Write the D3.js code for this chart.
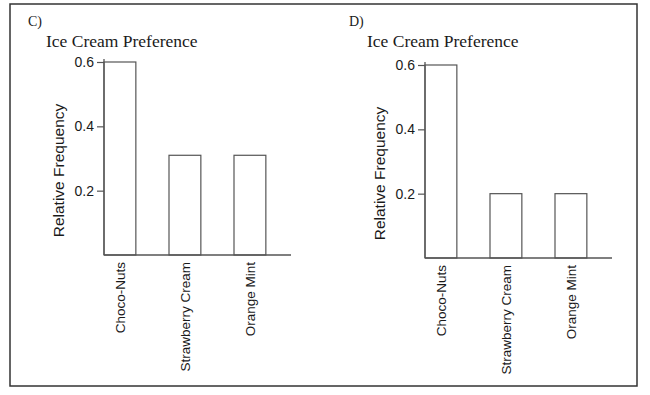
<!DOCTYPE html>
<html>
<head>
<meta charset="utf-8">
<script src="https://cdn.jsdelivr.net/npm/d3@7"></script>
<style>
  body { margin: 0; background: #fff; }
  svg { display: block; }
</style>
</head>
<body>
<svg width="650" height="395"></svg>
<script>
// data
const categories = ['Choco-Nuts', 'Strawberry Cream', 'Orange Mint'];
const valuesC = [0.6, 0.31, 0.31];
const valuesD = [0.6, 0.2, 0.2];
const yTicks = [0.2, 0.4, 0.6];
const panelLetters = ['C)', 'D)'];
const chartTitle = 'Ice Cream Preference';
const yLabel = 'Relative Frequency';

const svg = d3.select('svg');
const ink = '#555';
const textCol = '#1a1a1a';

// outer frame
svg.append('rect')
    .attr('x', 10).attr('y', 4)
    .attr('width', 627).attr('height', 382)
    .attr('fill', 'none')
    .attr('stroke', '#333')
    .attr('stroke-width', 1.5);

function drawPanel(letter, values, ox, base, top) {
    const g = svg.append('g');

    const x = d3.scaleBand()
        .domain(categories)
        .range([ox, ox + 195])
        .padding(0);
    const barW = x.step() * 0.49;

    const y = d3.scaleLinear()
        .domain([0, 0.6])
        .range([base, top]);

    g.append('text')
        .attr('x', ox - 76).attr('y', 26)
        .attr('font-family', '"Liberation Serif", "Times New Roman", serif')
        .attr('font-size', 14)
        .attr('fill', textCol)
        .text(letter);

    g.append('text')
        .attr('x', ox - 58).attr('y', 47)
        .attr('font-family', '"Liberation Serif", "Times New Roman", serif')
        .attr('font-size', 17.5)
        .attr('fill', textCol)
        .text(chartTitle);

    // bars
    g.selectAll('.bar')
      .data(values)
      .enter().append('rect')
        .attr('class', 'bar')
        .attr('x', (d, i) => x(categories[i]))
        .attr('y', d => y(d))
        .attr('width', barW)
        .attr('height', d => y(0) - y(d))
        .attr('fill', '#fff')
        .attr('stroke', ink)
        .attr('stroke-width', 1.2);

    // y axis
    const yAxis = g.append('g')
        .attr('transform', `translate(${ox},0)`)
        .call(d3.axisLeft(y)
            .tickValues(yTicks)
            .tickSize(7)
            .tickSizeOuter(0)
            .tickFormat(d3.format('.1f')));
    yAxis.select('.domain').attr('stroke', ink).attr('stroke-width', 1.3)
        .attr('d', `M0,${base}V${top - 3}`);
    yAxis.selectAll('.tick line').attr('stroke', ink).attr('stroke-width', 1.2);
    yAxis.selectAll('.tick text')
        .attr('x', -10)
        .attr('font-family', '"Liberation Sans", Arial, sans-serif')
        .attr('font-size', 14)
        .attr('fill', textCol);

    // x axis line
    g.append('line')
        .attr('x1', ox).attr('x2', ox + 187)
        .attr('y1', base).attr('y2', base)
        .attr('stroke', ink)
        .attr('stroke-width', 1.3);

    // category labels
    g.selectAll('.cat')
      .data(categories)
      .enter().append('text')
        .attr('class', 'cat')
        .attr('transform', d => `translate(${x(d) + barW / 2},${base + 7}) rotate(-90)`)
        .attr('dy', '0.35em')
        .attr('text-anchor', 'end')
        .attr('font-family', '"Liberation Sans", Arial, sans-serif')
        .attr('font-size', 13.5)
        .attr('fill', textCol)
        .text(d => d);

    // y label
    g.append('text')
        .attr('transform', `translate(${ox - 45},${(base + top) / 2 + 12}) rotate(-90)`)
        .attr('dy', '0.35em')
        .attr('text-anchor', 'middle')
        .attr('font-family', '"Liberation Sans", Arial, sans-serif')
        .attr('font-size', 15.5)
        .attr('fill', textCol)
        .text(yLabel);
}

drawPanel(panelLetters[0], valuesC, 104, 255, 62);
drawPanel(panelLetters[1], valuesD, 425, 258, 65);
</script>
</body>
</html>
